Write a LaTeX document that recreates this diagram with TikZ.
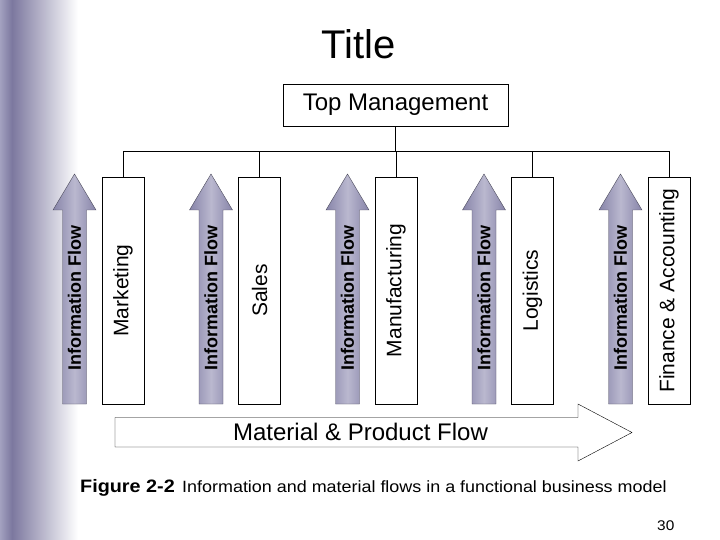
\documentclass[tikz,border=0pt]{standalone}
\usepackage{fontspec}
\setmainfont{Liberation Sans}
\newfontfamily\capfont[FakeStretch=1.1]{Liberation Sans}
\usepackage{tikz}
\usetikzlibrary{positioning,calc}
\usepackage{xcolor}
\definecolor{Band}{HTML}{7C789F}
\definecolor{BandEdge}{HTML}{A3A1C0}
\definecolor{FlowDark}{HTML}{8784A9}
\definecolor{FlowLight}{HTML}{BAB8CF}
\definecolor{FlowLine}{HTML}{4C4B5C}
\tikzset{
  topbox/.style={draw=black, fill=white, thin, minimum width=225pt, minimum height=42pt, inner sep=0pt, font=\fontsize{24}{28}\selectfont},
  unit/.style={draw=black, fill=white, thin, rotate=90, minimum width=227pt, minimum height=42pt, inner sep=0pt, font=\fontsize{21}{24}\selectfont},
  flowarrow/.style={draw=FlowLine, thin, left color=FlowDark, right color=FlowDark, middle color=FlowLight},
  flowtext/.style={rotate=90, inner sep=0pt, font=\fontsize{18}{22}\selectfont\bfseries},
  matflow/.style={draw=black, fill=white, thin},
  bus/.style={draw=black, thin},
  capnote/.style={inner sep=0pt, anchor=base west, font=\capfont\fontsize{16.3}{20}\selectfont}
}

\begin{document}
\begin{tikzpicture}[x=1pt, y=-1pt]
\useasboundingbox (0,0) rectangle (720,540);
% side band
\shade[left color=BandEdge, right color=Band] (0,0) rectangle (12,540);
\shade[left color=Band, right color=white] (12,0) rectangle (78,540);

\node[font=\fontsize{40}{48}\selectfont, inner sep=0pt] (title) at (359,44) {Title};
\node[topbox] (top) at (395.5,105) {Top Management};
\coordinate (bus) at (0,151);

% functions and information flows
\foreach \i/\lab in {0/Marketing, 1/Sales, 2/Manufacturing, 3/Logistics, 4/{Finance \& Accounting}}{
  \pgfmathsetmacro{\x}{74.5+136.5*\i}
  \shadedraw[flowarrow] (\x-12,404) -- (\x-12,210) -- (\x-21.5,210) -- (\x,174)
    -- (\x+21.5,210) -- (\x+12,210) -- (\x+12,404) -- cycle;
  \node[flowtext] (flow\i) at (\x,298) {Information Flow};
  \node[unit] (u\i) at (\x+48.5,290.5) {\lab};
  \draw[bus] (u\i.east) -- (u\i.east |- bus);
}
\draw[bus] (u0.east |- bus) -- (u4.east |- bus);
\draw[bus] (top.south) -- (top.south |- bus);

% material flow
\draw[matflow] (115,417.5) -- (578,417.5) -- (578,404) -- (632,432.5)
  -- (578,461) -- (578,447) -- (115,447) -- cycle;
\node[font=\fontsize{24}{28}\selectfont, inner sep=0pt] (mat) at (360.5,432) {Material \& Product Flow};

% caption
\node[capnote, font=\capfont\fontsize{18}{20}\selectfont\bfseries] (fig) at (80,492) {Figure 2-2};
\node[capnote] (capt) at ([xshift=7pt]fig.base east) {Information and material flows in a functional business model};
\node[capnote, font=\capfont\fontsize{14}{16}\selectfont] (page) at (657,530) {30};
\end{tikzpicture}
\end{document}
